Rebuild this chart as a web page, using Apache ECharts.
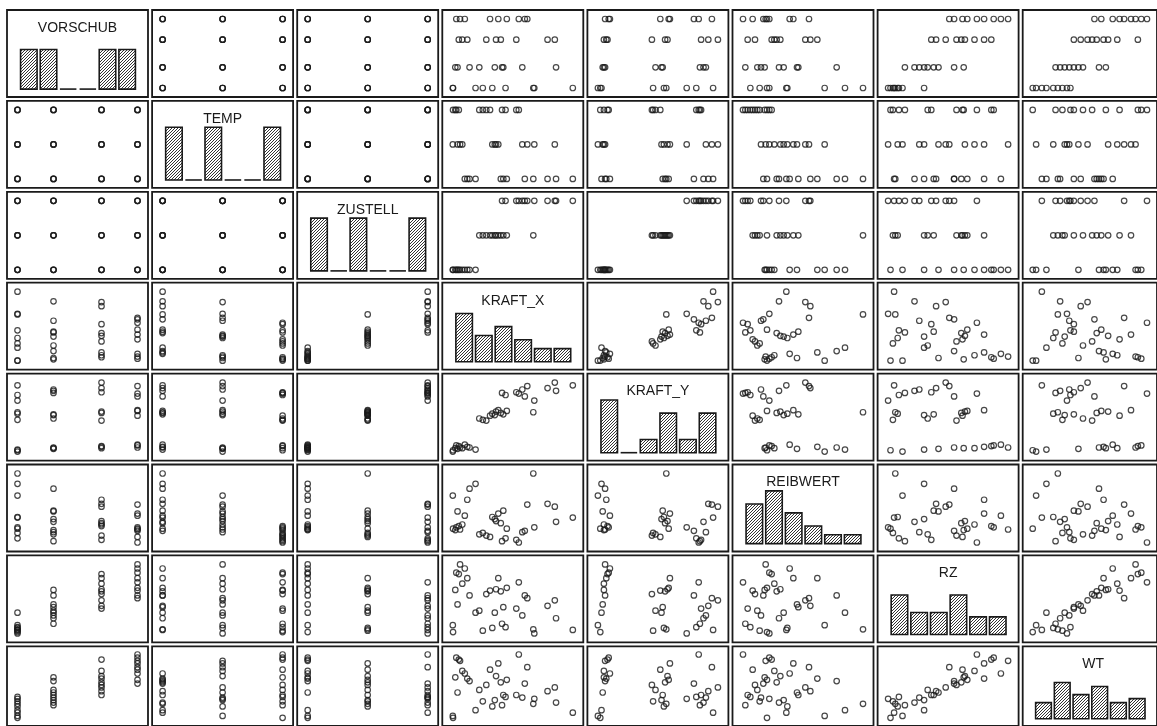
<!DOCTYPE html>
<html>
<head>
<meta charset="utf-8">
<title>Streudiagramm-Matrix</title>
<script src="https://cdn.jsdelivr.net/npm/echarts@6/dist/echarts.min.js"></script>
<style>
  html, body { margin: 0; padding: 0; background: #fff; overflow: hidden; }
  #chart { width: 1157px; height: 726px; }
</style>
</head>
<body>
<div id="chart"></div>
<script>
// Variable names, in matrix order
const VARIABLES = ['VORSCHUB', 'TEMP', 'ZUSTELL', 'KRAFT_X', 'KRAFT_Y', 'REIBWERT', 'RZ', 'WT'];

// 36 runs: 3 ZUSTELL levels x 4 VORSCHUB levels x 3 TEMP levels
const VORSCHUB = [
  0.10, 0.10, 0.10, 0.16, 0.16, 0.16, 0.24, 0.24, 0.24, 0.30, 0.30, 0.30,
  0.10, 0.10, 0.10, 0.16, 0.16, 0.16, 0.24, 0.24, 0.24, 0.30, 0.30, 0.30,
  0.10, 0.10, 0.10, 0.16, 0.16, 0.16, 0.24, 0.24, 0.24, 0.30, 0.30, 0.30
];
const TEMP = [
  20, 200, 380, 20, 200, 380, 20, 200, 380, 20, 200, 380,
  20, 200, 380, 20, 200, 380, 20, 200, 380, 20, 200, 380,
  20, 200, 380, 20, 200, 380, 20, 200, 380, 20, 200, 380
];
const ZUSTELL = [
  0.5, 0.5, 0.5, 0.5, 0.5, 0.5, 0.5, 0.5, 0.5, 0.5, 0.5, 0.5,
  1.0, 1.0, 1.0, 1.0, 1.0, 1.0, 1.0, 1.0, 1.0, 1.0, 1.0, 1.0,
  1.5, 1.5, 1.5, 1.5, 1.5, 1.5, 1.5, 1.5, 1.5, 1.5, 1.5, 1.5
];
const KRAFT_X = [
  151, 60, 61, 127, 79, 70, 118, 98, 84, 108, 89, 74,
  382, 218, 180, 262, 228, 166, 252, 233, 194, 276, 242, 209,
  540, 386, 271, 473, 338, 257, 439, 468, 314, 348, 358, 324
];
const KRAFT_Y = [
  124, 100, 116, 148, 132, 140, 156, 140, 164, 180, 148, 172,
  556, 540, 468, 532, 524, 484, 548, 564, 460, 572, 580, 516,
  868, 692, 756, 804, 820, 780, 836, 900, 788, 740, 860, 772
];
const REIBWERT = [
  0.426, 0.365, 0.192, 0.401, 0.282, 0.185, 0.343, 0.214, 0.206, 0.260, 0.188, 0.199,
  0.480, 0.253, 0.170, 0.286, 0.242, 0.163, 0.221, 0.232, 0.156, 0.192, 0.271, 0.149,
  0.250, 0.199, 0.142, 0.228, 0.174, 0.127, 0.322, 0.307, 0.134, 0.181, 0.318, 0.120
];
const RZ = [
  5.60, 3.44, 2.24, 8.60, 7.04, 9.56, 11.60, 10.64, 12.32, 13.28, 14.00, 12.56,
  2.72, 2.96, 2.48, 6.56, 5.60, 5.96, 9.32, 9.68, 8.84, 9.92, 11.60, 9.44,
  2.60, 2.00, 3.08, 4.64, 5.12, 3.68, 6.80, 7.76, 6.32, 8.60, 8.12, 10.88
];
const WT = [
  1.60, 1.15, 1.00, 3.90, 3.00, 4.20, 4.10, 4.70, 5.60, 4.50, 5.50, 5.75,
  2.10, 1.90, 2.30, 2.80, 2.40, 3.20, 3.80, 4.30, 3.60, 4.00, 5.30, 4.80,
  1.40, 2.50, 2.65, 2.20, 2.60, 2.00, 3.10, 3.40, 2.80, 3.70, 5.00, 6.00
];

const COLUMNS = [VORSCHUB, TEMP, ZUSTELL, KRAFT_X, KRAFT_Y, REIBWERT, RZ, WT];
const BIN_COUNT = 6;

// Panel layout (pixels)
const N = VARIABLES.length;
const ORIGIN_X = 7, ORIGIN_Y = 10;
const STEP_X = 145.1, STEP_Y = 90.9;
const PANEL_W = 141, PANEL_H = 87;
const PAD_X = 0.0875, PAD_Y = 0.13;   // scatter padding as share of data range
const INK = '#1a1a1a';

// Diagonal hatch used to fill histogram bars
function makeHatch() {
  const s = 3;
  const c = document.createElement('canvas');
  c.width = s; c.height = s;
  const g = c.getContext('2d');
  g.fillStyle = '#ffffff';
  g.fillRect(0, 0, s, s);
  g.strokeStyle = '#333333';
  g.lineWidth = 1;
  g.beginPath();
  g.moveTo(-1, s + 1); g.lineTo(s + 1, -1);
  g.moveTo(-1, 1); g.lineTo(1, -1);
  g.moveTo(s - 1, s + 1); g.lineTo(s + 1, s - 1);
  g.stroke();
  return c;
}
const hatch = { type: 'pattern', image: makeHatch(), repeat: 'repeat' };

function extent(values) {
  return [Math.min.apply(null, values), Math.max.apply(null, values)];
}

// Bin counts over the data range, right-closed bins
function histogram(values) {
  const [lo, hi] = extent(values);
  const counts = new Array(BIN_COUNT).fill(0);
  values.forEach(v => {
    let k = Math.ceil((v - lo) / (hi - lo) * BIN_COUNT - 1e-9) - 1;
    k = Math.max(0, Math.min(BIN_COUNT - 1, k));
    counts[k]++;
  });
  return counts;
}

const grids = [], xAxes = [], yAxes = [], series = [], texts = [];

for (let r = 0; r < N; r++) {
  for (let c = 0; c < N; c++) {
    const k = grids.length;
    const left = ORIGIN_X + c * STEP_X;
    const top = ORIGIN_Y + r * STEP_Y;
    grids.push({
      left: left, top: top, width: PANEL_W, height: PANEL_H,
      show: true, backgroundColor: '#fff', borderColor: INK, borderWidth: 1.8
    });

    if (r === c) {
      // Diagonal: histogram of the variable with its name
      const counts = histogram(COLUMNS[c]);
      xAxes.push({ gridIndex: k, type: 'value', min: -0.61, max: BIN_COUNT + 0.56, show: false });
      yAxes.push({ gridIndex: k, type: 'value', min: -1.8, max: 18, show: false });
      series.push({
        type: 'custom',
        xAxisIndex: k, yAxisIndex: k,
        silent: true,
        data: counts.map((n, i) => [i, n]),
        renderItem: function (params, api) {
          const i = api.value(0), n = api.value(1);
          const a = api.coord([i + 0.08, 0]);
          const b = api.coord([i + 0.92, n]);
          if (n === 0) {
            return {
              type: 'line',
              shape: { x1: a[0], y1: a[1], x2: b[0], y2: a[1] },
              style: { stroke: INK, lineWidth: 1.6 }
            };
          }
          return {
            type: 'rect',
            shape: { x: a[0], y: b[1], width: b[0] - a[0], height: a[1] - b[1] },
            style: { fill: hatch, stroke: INK, lineWidth: 1.6 }
          };
        }
      });
      texts.push({
        type: 'text',
        x: left + PANEL_W / 2,
        y: top + 18,
        z: 100,
        style: {
          text: VARIABLES[c],
          textAlign: 'center',
          textVerticalAlign: 'middle',
          font: '14px "Liberation Sans", "DejaVu Sans", sans-serif',
          fill: INK
        }
      });
    } else {
      // Off-diagonal: row variable against column variable
      const xs = COLUMNS[c], ys = COLUMNS[r];
      const [x0, x1] = extent(xs), [y0, y1] = extent(ys);
      const dx = (x1 - x0) * PAD_X, dy = (y1 - y0) * PAD_Y;
      xAxes.push({ gridIndex: k, type: 'value', min: x0 - dx, max: x1 + dx, show: false });
      yAxes.push({ gridIndex: k, type: 'value', min: y0 - dy, max: y1 + dy, show: false });
      series.push({
        type: 'scatter',
        xAxisIndex: k, yAxisIndex: k,
        silent: true,
        symbol: 'circle',
        symbolSize: 5.5,
        itemStyle: { color: 'rgba(255,255,255,0)', borderColor: INK, borderWidth: 1.2 },
        data: xs.map((x, i) => [x, ys[i]])
      });
    }
  }
}

const chart = echarts.init(document.getElementById('chart'), null, { renderer: 'canvas' });
chart.setOption({
  animation: false,
  backgroundColor: '#ffffff',
  grid: grids,
  xAxis: xAxes,
  yAxis: yAxes,
  series: series,
  graphic: { elements: texts }
});
</script>
</body>
</html>
